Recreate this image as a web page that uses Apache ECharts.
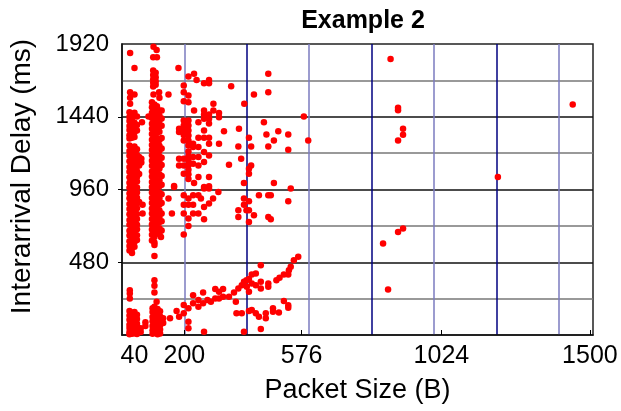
<!DOCTYPE html>
<html>
<head>
<meta charset="utf-8">
<script src="https://cdn.jsdelivr.net/npm/echarts@6/dist/echarts.min.js"></script>
<style>
  html, body { margin: 0; padding: 0; background: #fff; }
  #chart { width: 621px; height: 411px; }
</style>
</head>
<body>
<div id="chart"></div>
<script>
// tick labels
const xLabels = [40, 200, 576, 1024, 1500];
const xTicks = [200, 576, 1024, 1500];
const yLabels = [480, 960, 1440, 1920];
const yTicks = [480, 960, 1440];

// [packet size, interarrival delay]
// the 40 B column
const colA = [
  [26,1861],[40,1762],[26,1602],[40,1587],[26,1565],[26,1525],
  [24,1470],[24,1438],[24,1412],[24,1379],[24,1352],[24,1318],[24,1296],
  [32,1456],[32,1421],[32,1392],[32,1358],[32,1331],[32,1302],
  [40,1466],[40,1401],[40,1368],[40,1337],[40,1306],
  [48,1442],[48,1386],[48,1349],[64,1404],[85,1442],
  [24,1251],[24,1214],[24,1182],[24,1146],[24,1108],[24,1077],[24,1041],[24,1004],[24,972],[24,933],
  [24,902],[24,864],[24,831],[24,797],[24,758],[24,727],[24,688],[24,656],[24,618],[24,587],[24,558],
  [32,1236],[32,1198],[32,1166],[32,1128],[32,1096],[32,1058],[32,1027],[32,988],[32,957],[32,918],
  [32,886],[32,849],[32,816],[32,778],[32,746],[32,709],[32,676],[32,639],[32,606],[32,571],[32,541],
  [40,1244],[40,1211],[40,1173],[40,1142],[40,1103],[40,1071],[40,1033],[40,1001],[40,963],[40,931],
  [40,893],[40,862],[40,823],[40,791],[40,753],[40,722],[40,683],[40,651],[40,613],[40,582],
  [48,1226],[48,1188],[48,1152],[48,1113],[48,1081],[48,1043],[48,1012],[48,973],[48,941],
  [48,906],[48,868],[48,836],[48,798],[48,766],[48,728],[48,697],[48,658],[48,626],
  [55,1174],[55,1148],[62,1163],[62,1138],[55,1118],[55,1062],[55,878],[66,860],[66,801],
  [25,296],[25,274],[25,241],
  [24,158],[24,129],[24,101],[24,68],[24,46],[24,19],[24,5],
  [32,146],[32,114],[32,86],[32,54],[32,31],[32,9],
  [40,151],[40,121],[40,89],[40,61],[40,34],[40,12],
  [48,134],[48,106],[48,74],[48,51],[48,24],[48,7],
  [60,44],[60,20],[75,84],[75,60]
];

// the ~100 B column
const colB = [
  [101,1902],[111,1880],[100,1832],[112,1832],
  [100,1745],[100,1716],[100,1688],[100,1664],[100,1640],[108,1731],[108,1701],[108,1674],[108,1651],
  [119,1602],[101,1587],[120,1565],
  [96,1536],[96,1502],[96,1466],[96,1431],[96,1394],[96,1361],[96,1326],[96,1288],[96,1254],[96,1221],
  [96,1186],[96,1149],[96,1116],[96,1079],[96,1046],[96,1009],[96,976],[96,941],[96,904],[96,871],
  [96,834],[96,801],[96,766],[96,729],[96,696],[96,661],[96,624],
  [104,1521],[104,1484],[104,1451],[104,1414],[104,1381],[104,1344],[104,1311],[104,1274],[104,1239],
  [104,1206],[104,1169],[104,1136],[104,1099],[104,1066],[104,1029],[104,996],[104,959],[104,926],
  [104,889],[104,856],[104,819],[104,786],[104,749],[104,716],[104,679],[104,646],[104,611],[104,593],
  [112,1509],[112,1471],[112,1439],[112,1401],[112,1369],[112,1336],[112,1299],[112,1266],[112,1229],
  [112,1196],[112,1159],[112,1126],[112,1089],[112,1056],[112,1019],[112,986],[112,949],[112,916],
  [112,879],[112,846],[112,809],[112,776],[112,739],[112,706],[112,669],
  [120,1481],[120,1446],[120,1414],[120,1376],[120,1341],[120,1286],[120,1249],[120,1216],[120,1179],
  [120,1141],[120,1099],[120,1061],[120,1019],[120,981],[120,939],[120,901],[120,859],[120,821],
  [120,779],[120,746],[120,704],[120,666],
  [127,1481],[127,1429],[127,1381],[127,1299],[127,1231],[127,1169],[127,1121],[127,1049],[127,991],
  [127,929],[127,871],[127,801],[127,751],[127,689],[125,647],
  [104,522],[104,362],[104,325],[104,281],[111,220],[104,187],
  [98,176],[98,151],[98,119],[98,91],[98,59],[98,31],[98,8],
  [106,164],[106,136],[106,104],[106,76],[106,44],[106,15],
  [114,171],[114,139],[114,111],[114,79],[114,51],[114,22],[114,5],
  [122,156],[122,124],[122,96],[122,64],[122,36],[122,10],
  [132,110],[132,80]
];

// the upper spread between 150 and 600 B
const spread = [
  [149,1587],[149,900],[160,801],[167,983],[167,976],
  [181,1762],[183,1361],[183,1339],[183,1163],[183,1119],
  [198,1646],[198,1602],[198,1543],[198,1415],[198,1383],[198,1350],[198,1320],[198,1284],
  [198,1163],[198,1119],[198,1064],[198,922],[198,860],[198,801],[198,663],
  [213,1705],[213,1580],[213,1536],[213,1415],[213,1383],[213,1350],[213,1317],[213,1284],[213,1250],
  [213,1210],[213,1180],[213,1150],[213,1120],[213,1090],[213,1060],[213,1030],[213,900],[213,860],
  [213,768],[213,720],
  [231,1723],[231,1481],[228,1262],[228,1240],[228,1174],[228,1130],[231,1003],[228,922],[228,860],[228,801],
  [239,1683],[245,1404],[245,1301],[245,1240],[245,1174],[245,1119],[245,1042],[245,922],[245,801],[253,900],
  [263,1661],[263,1481],[263,1455],[263,1426],[263,1350],[263,1301],[263,1207],[263,1141],[263,977],
  [263,966],[263,845],[263,764],
  [279,1683],[279,1661],[279,1455],[279,1426],[279,1395],[279,1301],[279,1262],[279,1185],[279,1042],
  [279,981],[279,966],[279,867],
  [293,1525],[293,1481],[292,900],[311,1464],[311,1437],[311,1262],[309,944],
  [327,1345],[343,1124],[350,1641],[375,1361],[373,1244],[373,823],[373,779],[382,1163],
  [392,1525],[391,1003],[391,900],[391,860],[399,823],
  [407,1301],[407,1097],[407,1064],[407,882],[407,823],[407,746],[414,1244],[414,1119],
  [423,1587],[423,790],[439,922],[455,1404],[463,1323],
  [469,1723],[469,1602],[469,1244],[469,922],[469,779],[477,764],[477,922],
  [487,1284],[487,1003],[501,1345],[533,1323],[533,1222],[533,882],[541,966],[583,1442],[597,1284]
];

// the rising band below 600 ms
const slope = [
  [154,110],[175,158],[183,121],[198,198],[198,143],[213,176],[213,88],[213,44],
  [228,263],[228,209],[245,231],[245,187],[260,281],[260,209],[274,231],[285,220],
  [299,303],[299,241],[311,285],[311,241],[324,303],[324,252],[343,252],[359,281],
  [365,220],[373,307],[384,329],[391,351],[399,362],[407,369],[400,318],[407,285],
  [416,399],[429,406],[416,340],[429,329],[445,351],[445,307],[469,340],[469,318],
  [495,362],[505,377],[519,399],[535,428],[541,450],[551,494],[565,516],[533,399],
  [445,461],[519,224],[533,180],[533,197],
  [367,143],[384,143],[407,158],[416,165],[429,143],[439,121],[461,143],[461,110],
  [484,176],[484,154],[503,149],[445,40],[391,22],[263,22]
];

// isolated points at large sizes
const far = [
  [861,1821],[885,1499],[885,1483],[901,1361],[901,1321],[885,1284],
  [1445,1521],[1205,1042],[901,702],[885,680],[837,604],[853,301]
];

const font = 'Liberation Sans, Arial, sans-serif';
const plain = v => String(v);
const chart = echarts.init(document.getElementById('chart'));

chart.setOption({
  backgroundColor: '#fff',
  animation: false,
  title: {
    text: 'Example 2',
    left: 358,
    top: 4,
    textAlign: 'center',
    textStyle: { fontFamily: font, fontSize: 25, fontWeight: 'bold', color: '#000' }
  },
  grid: {
    left: 121, right: 28, top: 44, bottom: 76,
    show: true, borderColor: '#222', borderWidth: 1.5, backgroundColor: 'transparent'
  },
  xAxis: [{
    // grid lines every 200 B
    type: 'value',
    min: 0, max: 1510, interval: 200,
    axisLine: { show: true, lineStyle: { color: '#111', width: 1.5 } },
    axisTick: { show: false },
    axisLabel: { show: false },
    splitLine: {
      show: true, showMinLine: false, showMaxLine: false,
      lineStyle: { color: ['#7b7bbf', '#000080'], width: 1.5 }
    }
  }, {
    // labelled sizes
    type: 'value',
    position: 'bottom',
    min: 0, max: 1510,
    name: 'Packet Size (B)',
    nameLocation: 'middle',
    nameGap: 42,
    nameTextStyle: { fontFamily: font, fontSize: 27, color: '#000' },
    axisLine: { show: false },
    axisTick: { show: true, inside: true, length: 5, customValues: xTicks, lineStyle: { color: '#000' } },
    axisLabel: { customValues: xLabels, formatter: plain, fontFamily: font, fontSize: 25, color: '#000', margin: 9 },
    splitLine: { show: false }
  }],
  yAxis: [{
    type: 'value',
    min: 0, max: 1920, interval: 240,
    axisLine: { show: true, lineStyle: { color: '#111', width: 1.5 } },
    axisTick: { show: false },
    axisLabel: { show: false },
    splitLine: {
      show: true, showMinLine: false, showMaxLine: false,
      lineStyle: { color: ['#777', '#111'], width: 1.5 }
    }
  }, {
    type: 'value',
    position: 'left',
    min: 0, max: 1920,
    name: 'Interarrival Delay (ms)',
    nameLocation: 'middle',
    nameGap: 86,
    nameTextStyle: { fontFamily: font, fontSize: 28, color: '#000', padding: [0, 0, 0, 26] },
    axisLine: { show: false },
    axisTick: { show: true, length: 4, customValues: yTicks, lineStyle: { color: '#000' } },
    axisLabel: { customValues: yLabels, formatter: plain, fontFamily: font, fontSize: 24, color: '#000', margin: 13 },
    splitLine: { show: false }
  }],
  series: [{
    type: 'scatter',
    xAxisIndex: 0,
    yAxisIndex: 0,
    symbol: 'circle',
    symbolSize: 6.5,
    itemStyle: { color: '#ff0000', opacity: 1 },
    data: [].concat(colA, colB, spread, slope, far)
  }]
});
</script>
</body>
</html>
